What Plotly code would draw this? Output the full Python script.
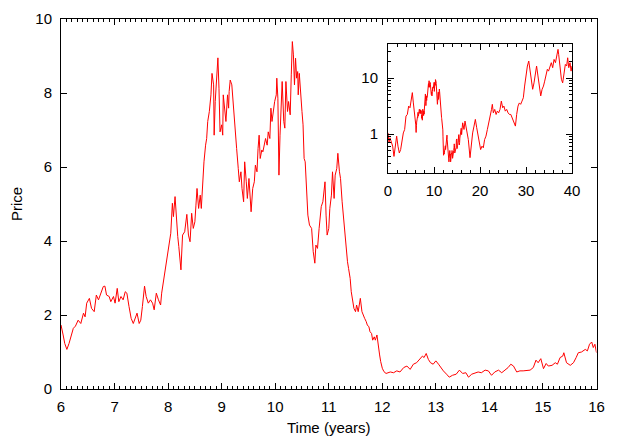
import math

import plotly.graph_objects as go

# main panel: years 6-16
t_main = [
    6.00, 6.02, 6.04, 6.07, 6.11, 6.15, 6.19, 6.23, 6.27, 6.32, 6.37, 6.42, 6.45, 6.48, 6.53, 6.57,
    6.62, 6.66, 6.70, 6.75, 6.79, 6.82, 6.85, 6.90, 6.93, 6.98, 7.01, 7.05, 7.08, 7.12, 7.16, 7.20,
    7.23, 7.27, 7.31, 7.35, 7.38, 7.42, 7.46, 7.49, 7.52, 7.56, 7.59, 7.63, 7.67, 7.71, 7.74, 7.78,
    7.82, 7.86, 7.88, 7.92, 7.94, 7.98, 8.02, 8.05, 8.08, 8.10, 8.13, 8.15, 8.18, 8.20,
    8.22, 8.24, 8.27, 8.31, 8.35, 8.38, 8.41, 8.44, 8.47, 8.50, 8.52, 8.54, 8.57, 8.60, 8.62, 8.65,
    8.67, 8.70, 8.72, 8.74, 8.77, 8.80, 8.82, 8.85, 8.86, 8.88, 8.90, 8.92, 8.93, 8.95, 8.97, 9.00,
    9.02, 9.03, 9.06, 9.08, 9.11, 9.13, 9.14, 9.16, 9.19, 9.21, 9.24, 9.26, 9.28, 9.31, 9.33, 9.36,
    9.38, 9.41, 9.43, 9.46, 9.48, 9.51, 9.53, 9.55, 9.58, 9.61, 9.63, 9.66, 9.68, 9.70, 9.72, 9.75,
    9.77, 9.80, 9.82, 9.85, 9.87, 9.90, 9.92, 9.94, 9.97, 9.99, 10.02, 10.03, 10.05, 10.07, 10.09, 10.11,
    10.13, 10.16, 10.18, 10.20, 10.23, 10.25, 10.28, 10.30, 10.32, 10.34, 10.36, 10.38, 10.40, 10.42, 10.43, 10.45,
    10.48, 10.50, 10.52, 10.54, 10.56, 10.59, 10.61, 10.64,
    10.68, 10.71, 10.74, 10.76, 10.79, 10.82, 10.84, 10.86, 10.89, 10.91, 10.93, 10.95, 10.97, 11.00, 11.02, 11.05,
    11.07, 11.10, 11.12, 11.15, 11.17, 11.20, 11.22, 11.25, 11.27, 11.30, 11.32, 11.35, 11.37, 11.40, 11.42, 11.45,
    11.47, 11.50, 11.52, 11.55, 11.57, 11.59, 11.62, 11.64, 11.67, 11.70, 11.72, 11.75, 11.77, 11.80, 11.82, 11.85,
    11.87, 11.90, 11.92, 11.95, 11.97, 12.00, 12.03, 12.07,
    12.15, 12.21, 12.27, 12.33, 12.40, 12.46, 12.52, 12.58, 12.64, 12.70, 12.75, 12.78, 12.82, 12.86, 12.90, 12.95,
    13.00, 13.05, 13.09, 13.14, 13.20, 13.25, 13.31, 13.38, 13.44, 13.50, 13.56, 13.61, 13.67, 13.73, 13.79, 13.85,
    13.92, 13.98, 14.04, 14.10, 14.17, 14.23, 14.29, 14.35, 14.40, 14.45, 14.51, 14.57, 14.63, 14.70, 14.76, 14.82,
    14.87, 14.91, 14.96, 15.01, 15.06, 15.10, 15.17, 15.23, 15.27, 15.32, 15.37, 15.39, 15.44, 15.51, 15.57, 15.62,
    15.66, 15.72, 15.79, 15.83, 15.87, 15.91, 15.94, 15.97, 16.00,
]
p_main = [
    1.73, 1.55, 1.46, 1.23, 1.07, 1.23, 1.41, 1.64, 1.70, 1.86, 1.77, 2.05, 1.95, 2.32, 2.45, 2.18,
    2.09, 2.54, 2.41, 2.63, 2.77, 2.78, 2.54, 2.50, 2.36, 2.50, 2.32, 2.72, 2.36, 2.50, 2.41, 2.63,
    2.59, 2.23, 1.91, 1.77, 1.91, 2.05, 1.77, 1.86, 2.23, 2.78, 2.50, 2.32, 2.41, 2.32, 2.14, 2.59,
    2.41, 2.27, 2.59, 2.95, 3.17, 3.58, 3.94, 4.21, 5.02, 4.66, 5.20, 4.66, 4.12, 3.85,
    3.44, 3.22, 4.16, 4.25, 4.72, 4.16, 3.98, 4.75, 4.34, 4.52, 4.97, 5.42, 4.88, 5.24, 4.88, 5.78,
    6.14, 6.59, 6.77, 7.23, 7.50, 7.95, 8.53, 8.22, 6.86, 7.77, 8.31, 8.76, 8.95, 8.13, 6.95, 7.14,
    6.86, 7.95, 7.41, 7.23, 7.95, 7.59, 8.04, 8.35, 8.22, 7.77, 7.41, 6.95, 6.50, 5.96, 5.60, 5.87,
    5.42, 5.06, 6.14, 5.60, 5.15, 5.69, 5.33, 4.79, 5.42, 5.60, 6.05, 5.87, 6.50, 6.86, 6.23, 6.46,
    6.41, 6.68, 6.77, 6.59, 6.95, 6.77, 7.59, 7.23, 7.68, 7.77, 7.95, 8.40, 7.86, 5.78, 6.86, 7.41,
    8.31, 7.23, 7.05, 8.31, 7.50, 7.77, 7.41, 8.49, 9.39, 9.03, 8.22, 8.94, 8.40, 8.58, 7.95, 8.53,
    8.04, 7.50, 7.14, 6.23, 6.14, 5.42, 4.70, 4.43,
    4.34, 3.71, 3.40, 3.89, 3.80, 4.34, 4.70, 4.93, 5.06, 5.42, 5.60, 4.70, 4.16, 4.34, 4.88, 5.24,
    5.87, 5.15, 5.78, 5.96, 6.37, 5.87, 5.69, 5.06, 4.70, 4.34, 3.80, 3.44, 3.26, 2.99, 2.63, 2.36,
    2.18, 2.09, 2.27, 2.09, 2.36, 2.45, 2.09, 2.00, 1.91, 1.82, 1.73, 1.68, 1.55, 1.50, 1.32, 1.41,
    1.32, 1.46, 1.19, 0.92, 0.74, 0.56, 0.47, 0.42,
    0.46, 0.44, 0.49, 0.46, 0.58, 0.62, 0.53, 0.67, 0.71, 0.80, 0.89, 0.85, 0.96, 0.80, 0.71, 0.67,
    0.76, 0.67, 0.58, 0.49, 0.40, 0.32, 0.37, 0.40, 0.51, 0.42, 0.44, 0.32, 0.40, 0.42, 0.46, 0.44,
    0.51, 0.49, 0.37, 0.46, 0.51, 0.44, 0.51, 0.58, 0.67, 0.62, 0.46, 0.49, 0.49, 0.51, 0.51, 0.58,
    0.78, 0.71, 0.82, 0.55, 0.69, 0.62, 0.64, 0.71, 0.67, 0.85, 0.89, 0.98, 0.71, 0.64, 0.71, 0.85,
    0.98, 1.00, 1.07, 1.03, 1.21, 1.27, 1.12, 1.21, 0.98,
]

# inset only: years 0-6 and 16-40
t_early = [0.00, 0.22, 0.43, 0.72, 1.01, 1.30, 1.59, 1.88, 2.17, 2.46, 2.75, 3.04, 3.33, 3.62,
           3.91, 4.20, 4.49, 4.78, 5.07, 5.29, 5.51, 5.80]
p_early = [1.05, 0.70, 0.86, 0.75, 0.61, 0.40, 0.70, 0.92, 0.61, 0.46, 0.53, 0.80, 1.05, 1.21,
           2.10, 2.24, 3.16, 2.95, 4.16, 5.50, 3.60, 2.40]
t_late = [
    16.23, 16.52, 16.74, 17.10, 17.46, 17.83, 18.10, 18.40, 18.70, 18.99, 19.28, 19.57, 19.86, 20.14,
    20.43, 20.72, 21.00, 21.30, 21.60, 21.90, 22.20, 22.50, 22.68, 22.90, 23.20, 23.50, 23.77, 24.06,
    24.35, 24.64, 24.93, 25.20, 25.50, 25.80, 26.10, 26.40, 26.70, 26.96, 27.25, 27.50, 27.70, 27.97,
    28.26, 28.55, 28.84, 29.13, 29.42, 29.70, 30.00, 30.30, 30.60, 30.87, 31.16, 31.45, 31.74, 32.03,
    32.30, 32.60, 32.90, 33.20, 33.50, 33.80, 34.06, 34.35, 34.64, 34.90, 35.20, 35.50, 35.80, 36.10,
    36.40, 36.70, 36.96, 37.10, 37.40, 37.70, 37.97, 38.26, 38.55, 38.84, 39.06, 39.30, 39.57, 39.80,
    40.00,
]
p_late = [
    1.59, 1.21, 1.71, 1.05, 0.80, 0.38, 0.70, 1.05, 1.39, 1.83, 1.30, 0.92, 0.70, 0.53,
    0.61, 0.57, 0.80, 0.92, 1.21, 1.59, 1.83, 2.76, 3.40, 2.40, 2.76, 2.24, 2.57, 2.40,
    2.76, 3.88, 2.95, 3.16, 2.57, 2.76, 2.40, 2.24, 2.24, 1.96, 1.83, 1.59, 1.39, 2.24,
    3.16, 3.60, 3.40, 3.88, 4.45, 7.20, 12.4, 16.4, 20.1, 14.3, 8.80, 6.30, 8.20, 11.6,
    16.4, 10.9, 6.30, 4.80, 6.30, 7.20, 8.80, 11.6, 14.3, 13.3, 16.4, 18.8, 15.3, 21.5,
    18.8, 24.7, 32.5, 26.5, 16.4, 9.50, 8.20, 13.3, 17.5, 16.4, 23.0, 15.3, 18.8, 13.3,
    16.4,
]

assert len(t_main) == len(p_main)
assert len(t_early) == len(p_early) and len(t_late) == len(p_late)

t_all = t_early + t_main + t_late
p_all = p_early + p_main + p_late

# the page body keeps its 8px margin, so the figure starts at (8, 8) of the window
WIN_W, WIN_H = 623, 436
OFF = 8
W, H = WIN_W - OFF, WIN_H - OFF
FONT = dict(family="Liberation Sans, Arial, sans-serif", size=15, color="black")
RED = "#ff0000"


def px_x(a, b):
    # window pixel columns -> paper fraction domain
    return [(a - OFF) / W, (b - OFF) / W]


def px_y(top, bottom):
    # window pixel rows (from top) -> paper fraction domain
    return [(WIN_H - bottom) / H, (WIN_H - top) / H]


axis_common = dict(
    showline=True, linecolor="black", linewidth=1, mirror="allticks",
    ticks="inside", tickcolor="black", tickwidth=1, automargin=False,
    showgrid=False, zeroline=False, tickfont=FONT,
)

fig = go.Figure()
fig.add_trace(go.Scatter(x=t_main, y=p_main, mode="lines", line=dict(color=RED, width=1),
                         xaxis="x", yaxis="y", hoverinfo="skip"))
fig.add_trace(go.Scatter(x=t_all, y=p_all, mode="lines", line=dict(color=RED, width=1),
                         xaxis="x2", yaxis="y2", hoverinfo="skip"))

fig.update_layout(
    width=W, height=H, autosize=False,
    margin=dict(l=0, r=0, t=0, b=0),
    paper_bgcolor="white", plot_bgcolor="white",
    showlegend=False, font=FONT,
    xaxis=dict(
        axis_common, domain=px_x(61, 596.5), anchor="y", range=[6, 16],
        tick0=6, dtick=1, ticklen=6, ticklabelstandoff=4,
        minor=dict(dtick=0.1, ticks="inside", ticklen=3, tickcolor="black", showgrid=False),
        title=dict(text="Time (years)", font=FONT, standoff=9),
    ),
    yaxis=dict(
        axis_common, domain=px_y(19, 389), anchor="x", range=[0, 10],
        tick0=0, dtick=2, ticklen=6, ticklabelstandoff=5,
        title=dict(text="Price", font=FONT, standoff=10),
    ),
    xaxis2=dict(
        axis_common, domain=px_x(388, 572), anchor="y2", range=[0, 40],
        tick0=0, dtick=10, ticklen=6, ticklabelstandoff=4,
        minor=dict(dtick=2, ticks="inside", ticklen=3, tickcolor="black", showgrid=False),
    ),
    yaxis2=dict(
        axis_common, domain=px_y(44.3, 173.3), anchor="x2", type="log",
        range=[math.log10(0.2), math.log10(40)],
        tickmode="array", tickvals=[1, 10], ticktext=["1", "10"], ticklen=6,
        ticklabelstandoff=6,
        minor=dict(tickmode="array", ticks="inside", ticklen=3, tickcolor="black", showgrid=False,
                   tickvals=[0.2, 0.3, 0.4, 0.5, 0.6, 0.7, 0.8, 0.9,
                             2, 3, 4, 5, 6, 7, 8, 9, 20, 30, 40]),
    ),
)

fig.write_html("out.html")
